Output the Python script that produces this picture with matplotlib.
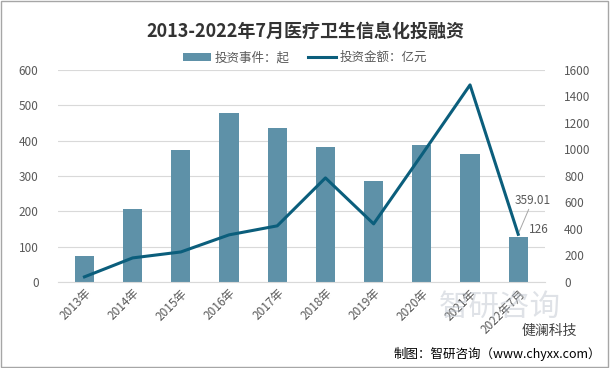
import matplotlib
matplotlib.use('Agg')
import matplotlib.pyplot as plt
import numpy as np

plt.rcParams['font.family'] = ['Noto Sans CJK SC', 'DejaVu Sans']

years = ['2013年', '2014年', '2015年', '2016年', '2017年', '2018年',
         '2019年', '2020年', '2021年', '2022年7月']
events = [74, 207, 372, 479, 436, 382, 286, 388, 362, 126]
amount = [38, 181, 226, 355, 423, 785, 438, 960, 1487, 359.01]

bar_color = '#5E91A8'
line_color = '#0B5E7C'
grid_color = '#D9D9D9'
tick_color = '#595959'

fig = plt.figure(figsize=(6.1, 3.68), dpi=100)
ax = fig.add_axes([0.095, 0.234, 0.798, 0.576])
ax2 = ax.twinx()

x = np.arange(len(years))
ax.bar(x, events, width=0.4, color=bar_color, zorder=2, label='投资事件：起')
ax2.plot(x, amount, color=line_color, lw=2.2, zorder=3, label='投资金额：亿元')

ax.set_ylim(0, 600)
ax.set_yticks(range(0, 601, 100))
ax2.set_ylim(0, 1600)
ax2.set_yticks(range(0, 1601, 200))
ax.set_xlim(-0.55, len(years) - 0.45)
ax.set_xticks(x)
ax.set_xticklabels(years, rotation=45, ha='right', rotation_mode='anchor')

ax.yaxis.grid(True, color=grid_color, lw=0.8, zorder=0)
ax.set_axisbelow(True)
ax2.set_zorder(ax.get_zorder() + 1)
ax2.patch.set_visible(False)
for a in (ax, ax2):
    for s in a.spines.values():
        s.set_visible(False)
    a.tick_params(length=0, labelsize=8.5, colors=tick_color)
ax.spines['bottom'].set_visible(True)
ax.spines['bottom'].set_color(grid_color)
ax.tick_params(axis='y', pad=14)
ax2.tick_params(axis='y', pad=14)

# data labels for last point
ax.text(x[-1] + 0.22, events[-1] + 3, '126', fontsize=8.5, color=tick_color,
        ha='left', va='bottom', zorder=5)
ax2.annotate('{:.2f}'.format(amount[-1]), xy=(x[-1] + 0.02, amount[-1] + 20),
             xytext=(x[-1] + 0.3, amount[-1] + 210), fontsize=8.5, color=tick_color,
             ha='center', va='bottom',
             arrowprops=dict(arrowstyle='-', color='#A6A6A6', lw=0.7,
                             shrinkA=0, shrinkB=0))

fig.text(0.5, 0.915, '2013-2022年7月医疗卫生信息化投融资', ha='center', va='center',
         fontsize=13, fontweight='bold', color='#333333')
h1, l1 = ax.get_legend_handles_labels()
h2, l2 = ax2.get_legend_handles_labels()
fig.legend(h1 + h2, l1 + l2, loc='center', bbox_to_anchor=(0.5, 0.843), ncol=2,
           frameon=False, fontsize=9, handlelength=2.2, columnspacing=1.5,
           labelcolor=tick_color, handletextpad=0.3)

# watermark and source
fig.text(0.82, 0.165, '智研咨询', ha='center', va='center', fontsize=22,
         color='#B0B8C4', alpha=0.4)
fig.text(0.9, 0.1, '健澜科技', ha='center', va='center', fontsize=10,
         color='#404040')
fig.text(0.985, 0.038, '制图：智研咨询（www.chyxx.com）', ha='right', va='center',
         fontsize=9, color='#000000')

fig.patches.append(plt.Rectangle((0.002, 0.003), 0.995, 0.994, transform=fig.transFigure,
                                 fill=False, edgecolor='#A6A6A6', lw=1))

fig.savefig('out.png', dpi=100)
